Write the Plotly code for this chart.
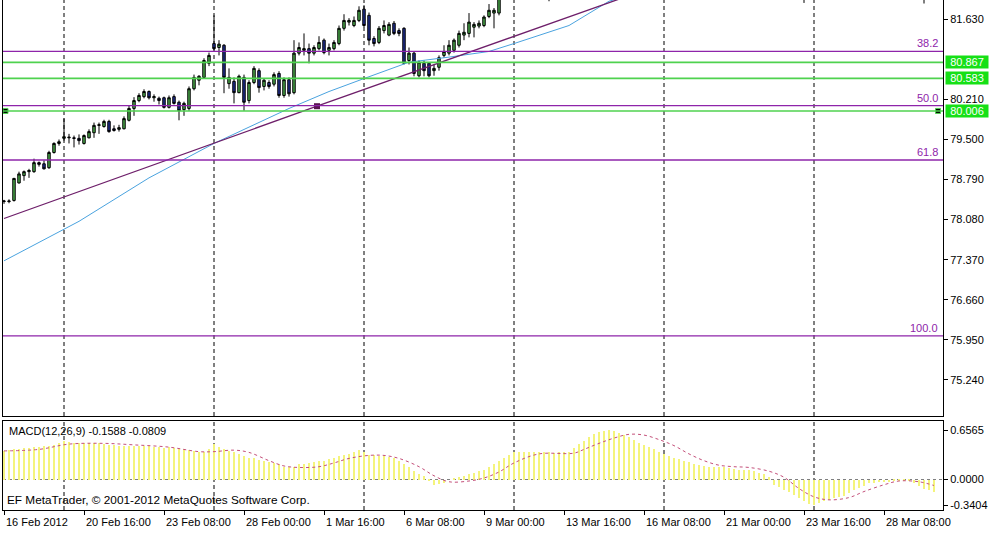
import plotly.graph_objects as go

# ---------------- data (H4 bars, index 0 = 16 Feb 2012 00:00) ----------------
OPEN = [78.40, 78.40, 78.42, 78.73, 78.86, 78.93, 78.93, 79.09, 79.07, 79.00,
        79.27, 79.43, 79.52, 79.53, 79.53, 79.52, 79.43, 79.53, 79.62, 79.75,
        79.73, 79.82, 79.69, 79.68, 79.69, 79.84, 80.05, 80.19, 80.26, 80.35,
        80.24, 80.23, 80.24, 80.07, 80.26, 80.16, 80.03, 80.05, 80.40, 80.55,
        80.60, 80.85, 81.20, 81.13, 81.17, 80.49, 80.53, 80.33, 80.60, 80.19,
        80.51, 80.72, 80.44, 80.51, 80.48, 80.67, 80.28, 80.56, 80.33, 81.03,
        81.08, 81.11, 81.03, 81.11, 81.26, 81.08, 81.11, 81.20, 81.47, 81.58,
        81.52, 81.61, 81.81, 81.70, 81.29, 81.22, 81.43, 81.35, 81.56, 81.43,
        81.47, 80.90, 81.03, 80.63, 80.85, 80.85, 80.72, 80.78, 80.99, 81.03,
        81.08, 81.17, 81.35, 81.38, 81.49, 81.51, 81.52, 81.68, 81.74, 81.74]
HIGH = [78.43, 78.44, 78.82, 78.93, 78.95, 78.98, 79.16, 79.11, 79.13, 79.30,
        79.45, 79.50, 79.87, 79.60, 79.57, 79.59, 79.59, 79.68, 79.80, 79.80,
        79.85, 79.85, 79.75, 79.76, 79.91, 80.10, 80.25, 80.32, 80.39, 80.37,
        80.30, 80.26, 80.26, 80.28, 80.30, 80.19, 80.17, 80.44, 80.65, 80.64,
        80.94, 81.04, 81.70, 81.26, 81.19, 80.76, 80.60, 80.65, 80.65, 80.55,
        80.80, 80.76, 80.58, 80.55, 80.69, 80.71, 80.60, 80.60, 81.26, 81.22,
        81.38, 81.20, 81.17, 81.33, 81.29, 81.20, 81.26, 81.52, 81.72, 81.65,
        81.68, 81.86, 81.88, 81.75, 81.33, 81.51, 81.61, 81.58, 81.60, 81.47,
        81.49, 81.13, 81.06, 80.90, 80.90, 80.87, 80.83, 80.99, 81.17, 81.26,
        81.29, 81.43, 81.56, 81.74, 81.58, 81.61, 81.70, 81.90, 81.83, 82.15]
LOW = [78.36, 78.37, 78.40, 78.72, 78.77, 78.82, 78.91, 79.02, 78.97, 78.98,
       79.25, 79.39, 79.48, 79.43, 79.36, 79.41, 79.41, 79.52, 79.53, 79.60,
       79.71, 79.62, 79.64, 79.64, 79.68, 79.82, 79.92, 80.16, 80.23, 80.21,
       80.17, 80.12, 80.05, 80.05, 80.12, 79.84, 79.92, 80.01, 80.37, 80.46,
       80.58, 80.80, 81.08, 80.99, 80.32, 80.40, 80.14, 80.32, 80.01, 80.14,
       80.48, 80.33, 80.37, 80.40, 80.44, 80.24, 80.24, 80.26, 80.30, 80.99,
       80.99, 80.85, 80.99, 81.08, 81.01, 80.99, 81.08, 81.17, 81.43, 81.52,
       81.49, 81.58, 81.49, 81.17, 81.15, 81.19, 81.38, 81.33, 81.35, 81.33,
       80.83, 80.83, 80.62, 80.60, 80.62, 80.60, 80.63, 80.72, 80.95, 80.99,
       81.04, 81.13, 81.26, 81.31, 81.31, 81.47, 81.49, 81.65, 81.47, 81.70]
CLOSE = [78.41, 78.41, 78.81, 78.89, 78.93, 78.95, 79.09, 79.06, 78.98, 79.27,
         79.43, 79.46, 79.55, 79.54, 79.52, 79.48, 79.57, 79.64, 79.75, 79.76,
         79.82, 79.64, 79.66, 79.71, 79.87, 80.05, 80.19, 80.28, 80.35, 80.24,
         80.26, 80.19, 80.07, 80.24, 80.14, 80.01, 80.14, 80.40, 80.60, 80.62,
         80.90, 80.99, 81.11, 81.19, 80.60, 80.60, 80.33, 80.62, 80.16, 80.51,
         80.76, 80.42, 80.55, 80.44, 80.65, 80.28, 80.56, 80.31, 81.03, 81.13,
         81.11, 81.03, 81.13, 81.22, 81.04, 81.13, 81.22, 81.47, 81.61, 81.61,
         81.61, 81.79, 81.52, 81.26, 81.20, 81.47, 81.52, 81.54, 81.38, 81.38,
         80.85, 81.03, 80.67, 80.87, 80.72, 80.63, 80.76, 80.95, 81.06, 81.17,
         81.26, 81.38, 81.40, 81.58, 81.54, 81.56, 81.67, 81.79, 81.79, 82.06]

# bars above the visible window (only their lower wicks show)
HIDDEN_X = [109, 160, 184]
HIDDEN_OPEN = [82.30, 82.28, 82.26]
HIDDEN_HIGH = [82.45, 82.40, 82.38]
HIDDEN_LOW = [81.95, 81.92, 81.91]
HIDDEN_CLOSE = [82.25, 82.22, 82.20]

# moving average (blue) and trend line (purple)
MA_X = [0, 15, 29, 42, 57, 65, 72, 81, 89, 97, 102, 113, 121, 126]
MA_Y = [77.35, 78.05, 78.82, 79.43, 80.05, 80.35, 80.58, 80.87, 80.96, 81.06,
        81.20, 81.52, 81.95, 82.08]
TREND_X = [0, 62.6, 125]
TREND_Y = [78.10, 80.09, 82.05]

# Fibonacci levels and horizontal lines
FIB_LABELS = ["38.2", "50.0", "61.8", "100.0"]
FIB_PRICES = [81.063, 80.10, 79.137, 76.02]
HLINES = [80.867, 80.583, 80.006]

PRICE_TICKS = [81.630, 80.210, 79.500, 78.790, 78.080, 77.370, 76.660, 75.950, 75.240]

# MACD(12,26,9)
MACD_MAIN = [0.38, 0.39, 0.40, 0.41, 0.42, 0.42,
             0.43, 0.43, 0.44, 0.44, 0.46, 0.48,
             0.51,
             0.50, 0.49, 0.49, 0.48, 0.48, 0.48, 0.48,
             0.47, 0.46, 0.46, 0.45, 0.45, 0.45, 0.45, 0.45, 0.44,
             0.44, 0.43, 0.43, 0.42, 0.43, 0.42, 0.41,
             0.40, 0.39, 0.38, 0.36, 0.37, 0.40,
             0.47,
             0.43, 0.40, 0.38, 0.36, 0.34, 0.31,
             0.29, 0.28, 0.26, 0.25, 0.23, 0.22, 0.20, 0.17, 0.16, 0.16,
             0.20, 0.21, 0.22, 0.23, 0.24, 0.25, 0.27, 0.29, 0.31, 0.33, 0.34, 0.36,
             0.39, 0.37,
             0.33, 0.32, 0.31, 0.31, 0.30, 0.28, 0.24, 0.20, 0.16,
             0.11, 0.07, 0.04, -0.01, -0.07, -0.06, -0.04,
             0.00, 0.02, 0.03, 0.05, 0.07, 0.09, 0.11, 0.13, 0.16, 0.20, 0.24,
             0.29, 0.33, 0.37, 0.37, 0.36, 0.37, 0.37, 0.36, 0.36, 0.36, 0.35, 0.36,
             0.37, 0.37, 0.42, 0.47,
             0.51, 0.56, 0.60, 0.63, 0.65, 0.66, 0.65, 0.62, 0.59, 0.56, 0.53,
             0.49, 0.46, 0.43, 0.40, 0.37, 0.34, 0.31, 0.29, 0.27, 0.25, 0.23, 0.21,
             0.19, 0.18,
             0.17, 0.17, 0.16, 0.16, 0.15, 0.14, 0.13, 0.13, 0.12, 0.11, 0.09, 0.07,
             0.03, -0.07, -0.10, -0.14, -0.17, -0.21, -0.25, -0.29, -0.32, -0.34,
             -0.31, -0.29, -0.27, -0.25, -0.23, -0.22, -0.18, -0.14, -0.11, -0.08,
             -0.05, -0.04, -0.03,
             -0.03, -0.03, -0.02, -0.02, -0.02, -0.02, -0.05, -0.09, -0.12, -0.14,
             -0.16]
SIGNAL_X = [0, 7, 13, 20, 26, 33, 39, 42, 46, 49, 53, 56, 59, 63, 66, 69, 73, 76,
            79, 83, 86, 89, 93, 96, 99, 102, 107, 114, 116, 119, 122, 125, 128,
            131, 134, 137, 140, 143, 146, 149, 153, 156, 159, 162, 165, 169, 172,
            176, 179, 183, 186]
SIGNAL_Y = [0.38, 0.40, 0.47, 0.48, 0.46, 0.43, 0.37, 0.37, 0.39, 0.36, 0.25,
            0.18, 0.16, 0.17, 0.22, 0.28, 0.32, 0.32, 0.28, 0.17, 0.05, -0.03,
            -0.02, 0.02, 0.10, 0.22, 0.34, 0.35, 0.40, 0.48, 0.55, 0.60, 0.59,
            0.53, 0.45, 0.34, 0.25, 0.19, 0.17, 0.16, 0.11, 0.03, -0.12, -0.23,
            -0.27, -0.24, -0.16, -0.07, -0.02, -0.03, -0.08]
MACD_TICKS = [0.6565, 0.0, -0.3404]
MACD_TICKTEXT = ["0.6565", "0.0000", "-0.3404"]

TIME_TICK_IDX = [0, 16, 32, 48, 64, 80, 96, 112, 128, 144, 160, 176]
TIME_TICK_TEXT = ["16 Feb 2012", "20 Feb 16:00", "23 Feb 08:00", "28 Feb 00:00",
                  "1 Mar 16:00", "6 Mar 08:00", "9 Mar 00:00", "13 Mar 16:00",
                  "16 Mar 08:00", "21 Mar 00:00", "23 Mar 16:00", "28 Mar 08:00"]
GRID_IDX = [12, 42, 72, 102, 132, 162]

# ---------------- figure ----------------
FONT = "Liberation Sans, Arial, sans-serif"
GREEN_BODY = "#4aab4a"
BLUE_BODY = "#1f2d8f"
FIB_COLOR = "#8e24aa"
HL_COLOR = "#4fd24f"

fig = go.Figure()

cx = list(range(len(OPEN))) + HIDDEN_X
fig.add_trace(go.Candlestick(
    x=cx, open=OPEN + HIDDEN_OPEN, high=HIGH + HIDDEN_HIGH,
    low=LOW + HIDDEN_LOW, close=CLOSE + HIDDEN_CLOSE,
    increasing=dict(fillcolor=GREEN_BODY, line=dict(color="black", width=1)),
    decreasing=dict(fillcolor=BLUE_BODY, line=dict(color="black", width=1)),
    xaxis="x", yaxis="y", hoverinfo="skip"))

fig.add_trace(go.Scatter(x=MA_X, y=MA_Y, mode="lines",
                         line=dict(color="#4aa3df", width=1),
                         xaxis="x", yaxis="y", hoverinfo="skip"))
fig.add_trace(go.Scatter(x=TREND_X, y=TREND_Y, mode="lines",
                         line=dict(color="#6e1f6a", width=1.3),
                         xaxis="x", yaxis="y", hoverinfo="skip"))

# anchor squares
fig.add_trace(go.Scatter(x=[0.3, 186.8], y=[HLINES[2], HLINES[2]], mode="markers",
                         marker=dict(symbol="square", size=5, color="black",
                                     line=dict(color=HL_COLOR, width=1)),
                         xaxis="x", yaxis="y", hoverinfo="skip", cliponaxis=False))
fig.add_trace(go.Scatter(x=[TREND_X[1]], y=[TREND_Y[1]], mode="markers",
                         marker=dict(symbol="square", size=6, color="#5a1450"),
                         xaxis="x", yaxis="y", hoverinfo="skip"))

# MACD
fig.add_trace(go.Bar(x=list(range(len(MACD_MAIN))), y=MACD_MAIN, width=0.4,
                     marker=dict(color="#f4f47c", line=dict(width=0)),
                     xaxis="x2", yaxis="y2", hoverinfo="skip"))
fig.add_trace(go.Scatter(x=SIGNAL_X, y=SIGNAL_Y, mode="lines", line_shape="spline",
                         line=dict(color="#c4507a", width=1, dash="3px,3px"),
                         xaxis="x2", yaxis="y2", hoverinfo="skip"))

shapes = []
for lv in FIB_PRICES:
    shapes.append(dict(type="line", xref="x domain", yref="y", x0=0, x1=1, y0=lv, y1=lv,
                       line=dict(color=FIB_COLOR, width=1.3)))
for lv in HLINES:
    shapes.append(dict(type="line", xref="x domain", yref="y", x0=0, x1=1, y0=lv, y1=lv,
                       line=dict(color=HL_COLOR, width=1.6)))
for g in GRID_IDX:
    shapes.append(dict(type="line", xref="x", yref="y domain", x0=g, x1=g, y0=0, y1=1,
                       line=dict(color="black", width=1, dash="4px,3px"), layer="below"))
    shapes.append(dict(type="line", xref="x2", yref="y2 domain", x0=g, x1=g, y0=0, y1=1,
                       line=dict(color="black", width=1, dash="4px,3px"), layer="below"))
shapes.append(dict(type="line", xref="x2 domain", yref="y2", x0=0, x1=1, y0=0, y1=0,
                   line=dict(color="#808080", width=1, dash="3px,3px"), layer="below"))

annotations = []
for lab, lv in zip(FIB_LABELS, FIB_PRICES):
    annotations.append(dict(xref="x domain", yref="y", x=0.997, y=lv, text=lab,
                            xanchor="right", yanchor="bottom", showarrow=False,
                            font=dict(family=FONT, size=11, color=FIB_COLOR)))
for lv in HLINES:
    annotations.append(dict(xref="paper", yref="y", x=1, y=lv, xshift=2,
                            text="%.3f" % lv, xanchor="left", yanchor="middle",
                            showarrow=False, bgcolor="#16e016", borderpad=0,
                            width=42, height=12, align="center",
                            font=dict(family=FONT, size=11, color="white")))
annotations.append(dict(xref="paper", yref="y2 domain", x=0, y=1, xshift=4, yshift=-2,
                        text="MACD(12,26,9) -0.1588 -0.0809", xanchor="left",
                        yanchor="top", showarrow=False,
                        font=dict(family=FONT, size=11, color="black")))
annotations.append(dict(xref="paper", yref="y2 domain", x=0, y=0, xshift=2, yshift=1,
                        text="EF MetaTrader, © 2001-2012 MetaQuotes Software Corp.",
                        xanchor="left", yanchor="bottom", showarrow=False,
                        font=dict(family=FONT, size=11.8, color="black")))
for idx, txt in zip(TIME_TICK_IDX, TIME_TICK_TEXT):
    annotations.append(dict(xref="x2", yref="paper", x=idx, y=0, yshift=-4,
                            text=txt, xanchor="left", yanchor="top", showarrow=False,
                            font=dict(family=FONT, size=11, color="black")))

XR = [-0.2, 187.8]
fig.update_layout(
    width=1001, height=538,
    margin=dict(l=3, r=58, t=0, b=28),
    paper_bgcolor="white", plot_bgcolor="white",
    showlegend=False, bargap=0,
    xaxis=dict(domain=[0, 1], range=XR, anchor="y", showgrid=False, zeroline=False,
               showticklabels=False, showline=True, linecolor="black", linewidth=1,
               rangeslider=dict(visible=False), ticks=""),
    yaxis=dict(domain=[0.1843, 1], range=[74.60, 81.972], side="right", anchor="x",
               showgrid=False, zeroline=False, showline=True, mirror=True,
               linecolor="black", linewidth=1, tickvals=PRICE_TICKS,
               ticktext=["%.3f" % t for t in PRICE_TICKS], ticks="outside",
               ticklen=4, tickcolor="black",
               tickfont=dict(family=FONT, size=11, color="black")),
    xaxis2=dict(domain=[0, 1], range=XR, anchor="y2", showgrid=False, zeroline=False,
                showticklabels=False, showline=True, mirror=True, linecolor="black",
                linewidth=1, tickvals=TIME_TICK_IDX, ticks="outside", ticklen=4,
                tickcolor="black"),
    yaxis2=dict(domain=[0, 0.1745], range=[-0.405, 0.777], side="right", anchor="x2",
                showgrid=False, zeroline=False, showline=True, mirror=True,
                linecolor="black", linewidth=1, tickvals=MACD_TICKS,
                ticktext=MACD_TICKTEXT, ticks="outside", ticklen=4, tickcolor="black",
                tickfont=dict(family=FONT, size=11, color="black")),
    shapes=shapes, annotations=annotations,
)

fig.write_html("out.html", config={"displayModeBar": False},
               post_script="document.body.style.margin='0px';"
                           "document.body.style.overflow='hidden';")
